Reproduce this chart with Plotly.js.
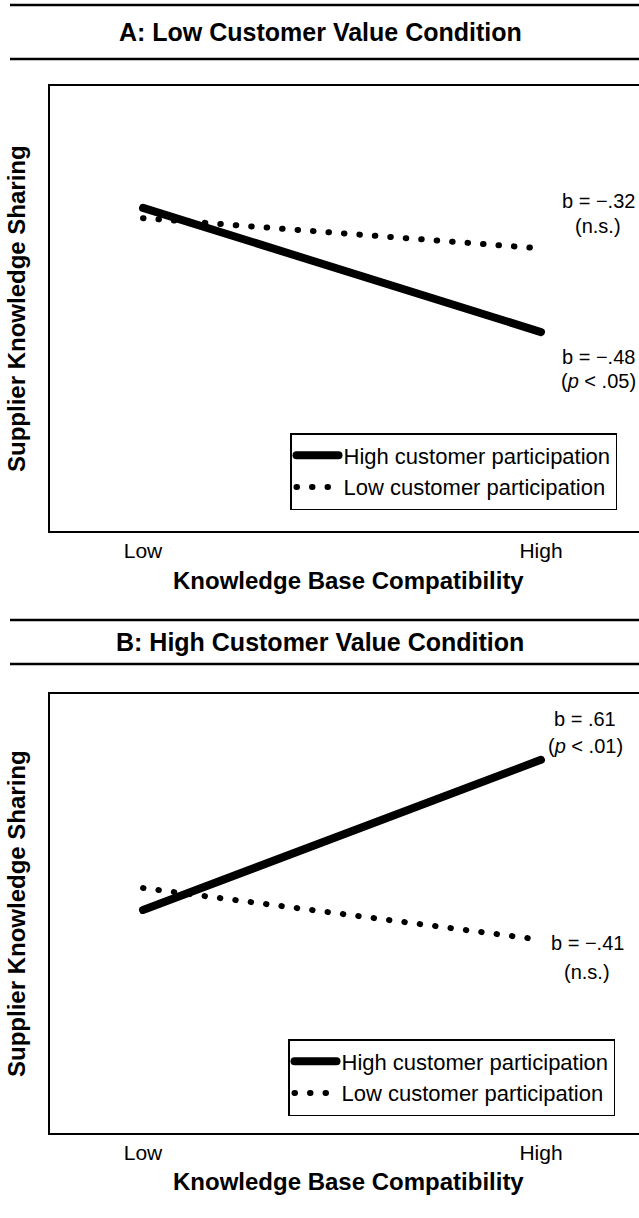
<!DOCTYPE html>
<html>
<head>
<meta charset="utf-8">
<script src="https://cdn.plot.ly/plotly-3.0.1.min.js"></script>
<style>
html,body{margin:0;padding:0;background:#fff;overflow:hidden;}
#chart{width:639px;height:1218px;}
.scatterlayer .js-line, .legendlines path { stroke-linecap: round; }
</style>
</head>
<body>
<div id="chart"></div>
<script>
// ---- data ----
const xCategories = [0, 1];
const xTickLabels = ['Low', 'High'];
const seriesNames = ['High customer participation', 'Low customer participation'];
const panelTitles = ['A: Low Customer Value Condition', 'B: High Customer Value Condition'];
const xAxisTitle = 'Knowledge Base Compatibility';
const yAxisTitle = 'Supplier Knowledge Sharing';
// Panel A (low customer value)
const lowValueHighPart = [7.26, 4.47];
const lowValueLowPart  = [7.03, 6.35];
// Panel B (high customer value)
const highValueHighPart = [5.08, 8.50];
const highValueLowPart  = [5.58, 4.40];
const slopeLabelsA = [['b = −.32', '(n.s.)'], ['b = −.48', '(<i>p</i> < .05)']];
const slopeLabelsB = [['b = .61', '(<i>p</i> < .01)'], ['b = −.41', '(n.s.)']];

// ---- layout helpers (page pixels -> paper) ----
const W = 639, H = 1218;
const px = v => v / W;
const py = v => 1 - v / H;
const FONT = 'Liberation Sans, Arial, Helvetica, sans-serif';
const REG = 20, TICK = 21, LEG = 22;

const solid = {color: '#000', width: 8};
const dotted = {color: '#000', width: 6, dash: '0.5px,15px'};

const traces = [
  {x: xCategories, y: lowValueHighPart, xaxis: 'x', yaxis: 'y', mode: 'lines', line: solid, name: seriesNames[0], legend: 'legend'},
  {x: xCategories, y: lowValueLowPart, xaxis: 'x', yaxis: 'y', mode: 'lines', line: dotted, name: seriesNames[1], legend: 'legend'},
  {x: xCategories, y: highValueHighPart, xaxis: 'x2', yaxis: 'y2', mode: 'lines', line: solid, name: seriesNames[0], legend: 'legend2'},
  {x: xCategories, y: highValueLowPart, xaxis: 'x2', yaxis: 'y2', mode: 'lines', line: dotted, name: seriesNames[1], legend: 'legend2'}
];

const xRange = [-0.2337, 1.2462];
function xax(anchor) {
  return {
    domain: [px(50), 1], range: xRange, anchor: anchor,
    tickmode: 'array', tickvals: xCategories, ticktext: xTickLabels, ticks: '',
    tickfont: {family: FONT, size: TICK, color: '#000'},
    showline: true, mirror: true, linecolor: '#000', linewidth: 2,
    showgrid: false, zeroline: false, fixedrange: true
  };
}
function yax(top, bottom, anchor) {
  return {
    domain: [py(bottom), py(top)], range: [0, 10], anchor: anchor,
    showticklabels: false, ticks: '', showline: true, mirror: false,
    linecolor: '#000', linewidth: 2, showgrid: false, zeroline: false, fixedrange: true
  };
}
function legendAt(left, top) {
  return {
    x: px(left), y: py(top), xanchor: 'left', yanchor: 'top',
    bgcolor: '#fff', bordercolor: '#000', borderwidth: 1.5, itemwidth: 42,
    font: {family: FONT, size: LEG, color: '#000'}, traceorder: 'normal'
  };
}

const annotations = [];
function txt(text, x, y, size, bold, extra) {
  annotations.push(Object.assign({
    text: bold ? '<b>' + text + '</b>' : text, x: px(x), y: py(y),
    xref: 'paper', yref: 'paper', showarrow: false, xanchor: 'center', yanchor: 'middle',
    font: {family: FONT, size: size, color: '#000'}
  }, extra || {}));
}
txt(panelTitles[0], 320, 32, 25, true);
txt(panelTitles[1], 320, 642, 25, true);
txt(xAxisTitle, 348, 580, 24, true);
txt(xAxisTitle, 348, 1181, 24, true);
txt(yAxisTitle, 16, 309, 24, true, {textangle: -90});
txt(yAxisTitle, 16, 914, 24, true, {textangle: -90});
txt(slopeLabelsA[0][0], 598, 201, REG, false);
txt(slopeLabelsA[0][1], 598, 226, REG, false);
txt(slopeLabelsA[1][0], 598, 357, REG, false);
txt(slopeLabelsA[1][1], 598, 381, REG, false);
txt(slopeLabelsB[0][0], 585, 719, REG, false);
txt(slopeLabelsB[0][1], 585, 746, REG, false);
txt(slopeLabelsB[1][0], 587, 943, REG, false);
txt(slopeLabelsB[1][1], 587, 972, REG, false);

const ruleYs = [5, 59, 620, 664];
const shapes = ruleYs.map(y => ({
  type: 'line', xref: 'paper', yref: 'paper', x0: px(10), x1: 1, y0: py(y), y1: py(y),
  line: {color: '#000', width: 2.5}
}));

const layout = {
  width: W, height: H, margin: {l: 0, r: 0, t: 0, b: 0},
  paper_bgcolor: '#fff', plot_bgcolor: '#fff',
  font: {family: FONT, color: '#000'},
  xaxis: xax('y'), yaxis: yax(86, 531, 'x'),
  xaxis2: xax('y2'), yaxis2: yax(694, 1133, 'x2'),
  legend: legendAt(290, 433), legend2: legendAt(288, 1039),
  showlegend: true, annotations: annotations, shapes: shapes
};

Plotly.newPlot('chart', traces, layout, {staticPlot: true, displayModeBar: false});
</script>
</body>
</html>
